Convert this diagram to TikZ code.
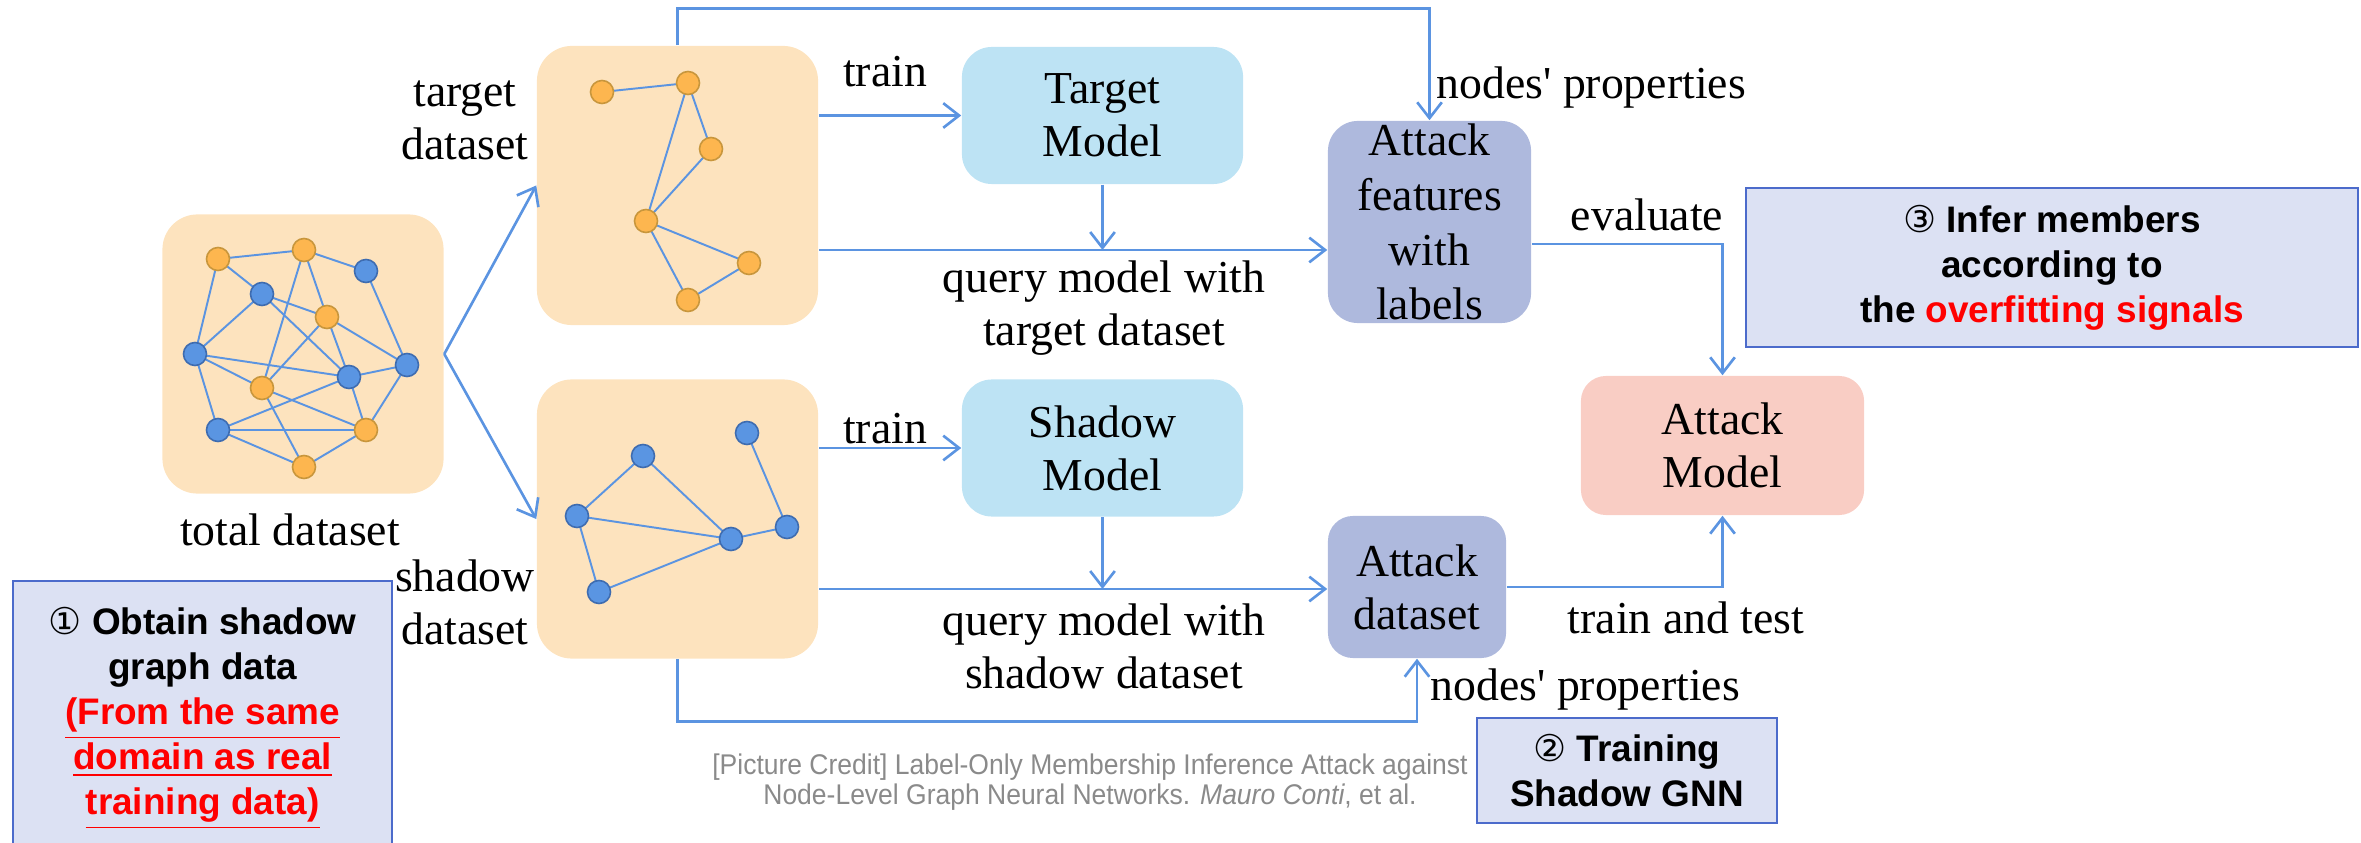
\documentclass[tikz,border=0pt]{standalone}
\usepackage{fontspec}
\setmainfont{Liberation Serif}
\newfontfamily\labelsans{Liberation Sans}
\newfontfamily\creditsans[FakeStretch=0.93]{Liberation Sans}
\newfontfamily\circsym{DejaVu Sans}
\usetikzlibrary{arrows.meta,positioning,calc}

\definecolor{peach}{HTML}{FDE3BE}
\definecolor{dotorange}{HTML}{FDB64F}
\definecolor{dotorangeline}{HTML}{C8963C}
\definecolor{dotblue}{HTML}{5A95E2}
\definecolor{dotblueline}{HTML}{3E6CB0}
\definecolor{linkblue}{HTML}{5B94E1}
\definecolor{modelblue}{HTML}{BDE3F4}
\definecolor{lavender}{HTML}{AEB9DD}
\definecolor{salmon}{HTML}{F9CDC4}
\definecolor{notefill}{HTML}{DCE1F3}
\definecolor{noteline}{HTML}{4C6BCB}
\definecolor{creditgray}{HTML}{8A8A8A}

\newcommand{\serifsize}{\fontsize{13}{15}\selectfont}
\newcommand{\notesize}{\fontsize{10.5}{12.8}\selectfont\labelsans\bfseries}
\newcommand{\circnum}[1]{{\circsym\mdseries #1}}

\begin{document}
\begin{tikzpicture}[
  x=0.01cm, y=-0.01cm,
  databox/.style={fill=peach, rounded corners=0.35cm, inner sep=0,
                  minimum width=2.81cm, minimum height=2.79cm},
  modelbox/.style={fill=modelblue, rounded corners=0.3cm, align=center,
                   minimum width=2.81cm, minimum height=1.37cm},
  attackbox/.style={fill=lavender, rounded corners=0.3cm, align=center, inner sep=0},
  notebox/.style={fill=notefill, draw=noteline, line width=0.6pt,
                  align=center, font=\notesize},
  flow/.style={draw=linkblue, line width=0.75pt,
               -{Straight Barb[length=4.5pt,width=7pt]}},
  gedge/.style={draw=linkblue, line width=0.55pt},
  odot/.style={circle, inner sep=0, minimum size=0.23cm,
               fill=dotorange, draw=dotorangeline, line width=0.45pt},
  bdot/.style={circle, inner sep=0, minimum size=0.23cm,
               fill=dotblue, draw=dotblueline, line width=0.45pt},
  every node/.style={font=\serifsize}]

\useasboundingbox (0,0) rectangle (2361,843);

% ================= datasets ===============================================
\node[databox] (total) at (303,354) {};
\node[databox] (tgt) at (677.5,185.5) {};
\node[databox] (shd) at (677.5,519) {};

\node (totallab) at (290,530) {total dataset};
\node[align=center] (tgtlab) at (465,120) {target\\dataset};
\node[align=center] (shdlab) at (465,602) {shadow\\dataset};

% whole graph: o = orange, b = blue
\foreach \n/\x/\y in {o1/218/259, o2/304/250, o3/327/317, o4/262/388, o5/366/430, o6/304/467,
                      b1/366/271, b2/262/294, b3/195/354, b4/407/365, b5/349/377, b6/218/430}
  {\coordinate (g\n) at (\x,\y);}
\foreach \a/\b in {o1/o2, o2/b1, o1/b3, o1/b2, b2/b5, b2/b3, b2/o3, o2/o3, o2/o4, o3/o4,
                   o3/b4, o3/b5, b1/b4, b3/b5, b3/o4, o4/o5, o4/o6, b3/b6, b5/b4, b5/b6,
                   b5/o5, b6/o5, b6/o6, o5/o6, b4/o5}
  {\draw[gedge] (g\a) -- (g\b);}
\foreach \n in {o1,o2,o3,o4,o5,o6} {\node[odot] at (g\n) {};}
\foreach \n in {b1,b2,b3,b4,b5,b6} {\node[bdot] at (g\n) {};}

% target part
\foreach \n/\x/\y in {1/602/92, 2/688/83, 3/711/149, 4/646/221, 5/749/263, 6/688/300}
  {\coordinate (t\n) at (\x,\y);}
\foreach \a/\b in {1/2, 2/3, 2/4, 3/4, 4/5, 4/6, 6/5}
  {\draw[gedge] (t\a) -- (t\b);}
\foreach \n in {1,...,6} {\node[odot] at (t\n) {};}

% shadow part
\foreach \n/\x/\y in {1/643/456, 2/747/433, 3/577/516, 4/731/539, 5/787/527, 6/599/592}
  {\coordinate (s\n) at (\x,\y);}
\foreach \a/\b in {1/3, 1/4, 3/4, 3/6, 6/4, 4/5, 2/5}
  {\draw[gedge] (s\a) -- (s\b);}
\foreach \n in {1,...,6} {\node[bdot] at (s\n) {};}

\draw[flow] (total.east) -- (tgt.west);
\draw[flow] (total.east) -- (shd.west);

% ================= models and attack ======================================
\node[modelbox] (tmodel) at (1102.5,115.5) {Target\\Model};
\node[modelbox] (smodel) at (1102.5,448) {Shadow\\Model};
\node[attackbox, minimum width=2.03cm, minimum height=2.02cm,
      font=\fontsize{13}{15.6}\selectfont] (afeat) at (1429.5,222)
  {Attack\\features\\with\\labels};
\node[attackbox, minimum width=1.78cm, minimum height=1.42cm,
      rounded corners=0.25cm] (adata) at (1417,587) {Attack\\dataset};
\node[fill=salmon, rounded corners=0.25cm, align=center,
      minimum width=2.83cm, minimum height=1.39cm] (amodel) at (1722.5,445.5)
  {Attack\\Model};

\coordinate (qt) at (1102.5,250);
\coordinate (qs) at (1102.5,589);

\draw[flow] (tgt.east |- tmodel.west) -- (tmodel.west);
\draw[flow] (shd.east |- smodel.west) -- (smodel.west);
\draw[flow] (tmodel.south) -- (qt);
\draw[flow] (smodel.south) -- (qs);
\draw[flow] (tgt.east |- qt) -- (afeat.west |- qt);
\draw[flow] (shd.east |- qs) -- (adata.west |- qs);
\draw[flow] (tgt.north) -- ++(0,-37) -| (afeat.north);
\draw[flow] (shd.south) -- ++(0,62) -| (adata.south);
\draw[flow] ([yshift=-0.22cm]afeat.east) -| (amodel.north);
\draw[flow] (adata.east) -| (amodel.south);

\node (trainT) at (885,72) {train};
\node (trainS) at (885,429) {train};
\node[align=center] (queryT) at (1104,308) {query model with\\target dataset};
\node[align=center] (queryS) at (1104,646) {query model with\\shadow dataset};
\node[anchor=west, inner sep=0] (propT) at (1436,88) {nodes\textquotesingle\ properties};
\node[anchor=west, inner sep=0] (propS) at (1430,690) {nodes\textquotesingle\ properties};
\node (evallab) at (1647,215) {evaluate};
\node (testlab) at (1686,618) {train and test};

% ================= steps ==================================================
\begin{scope}
  \clip (0,0) rectangle (2361,843);
  \node[notebox, anchor=north west, minimum width=3.79cm, minimum height=2.75cm]
    (note1) at (12,580)
    {\circnum{①} Obtain shadow\\graph data\\
     \color{red}\underline{(From the same}\\
     \color{red}\underline{domain as real}\\
     \color{red}\underline{training data)}};
\end{scope}
\node[notebox, minimum width=3.0cm, minimum height=1.05cm] (note2) at (1627,770.5)
  {\circnum{②} Training\\Shadow GNN};
\node[notebox, minimum width=6.12cm, minimum height=1.59cm] (note3) at (2052,267.5)
  {\circnum{③} Infer members\\according to\\the {\color{red}overfitting signals}};

\node[align=center, text=creditgray, font=\fontsize{8.1}{8.4}\selectfont\creditsans]
  (credit) at (1090,782)
  {[Picture Credit] Label-Only Membership Inference Attack against\\
   Node-Level Graph Neural Networks. \textit{Mauro Conti}, et al.};

\end{tikzpicture}
\end{document}
